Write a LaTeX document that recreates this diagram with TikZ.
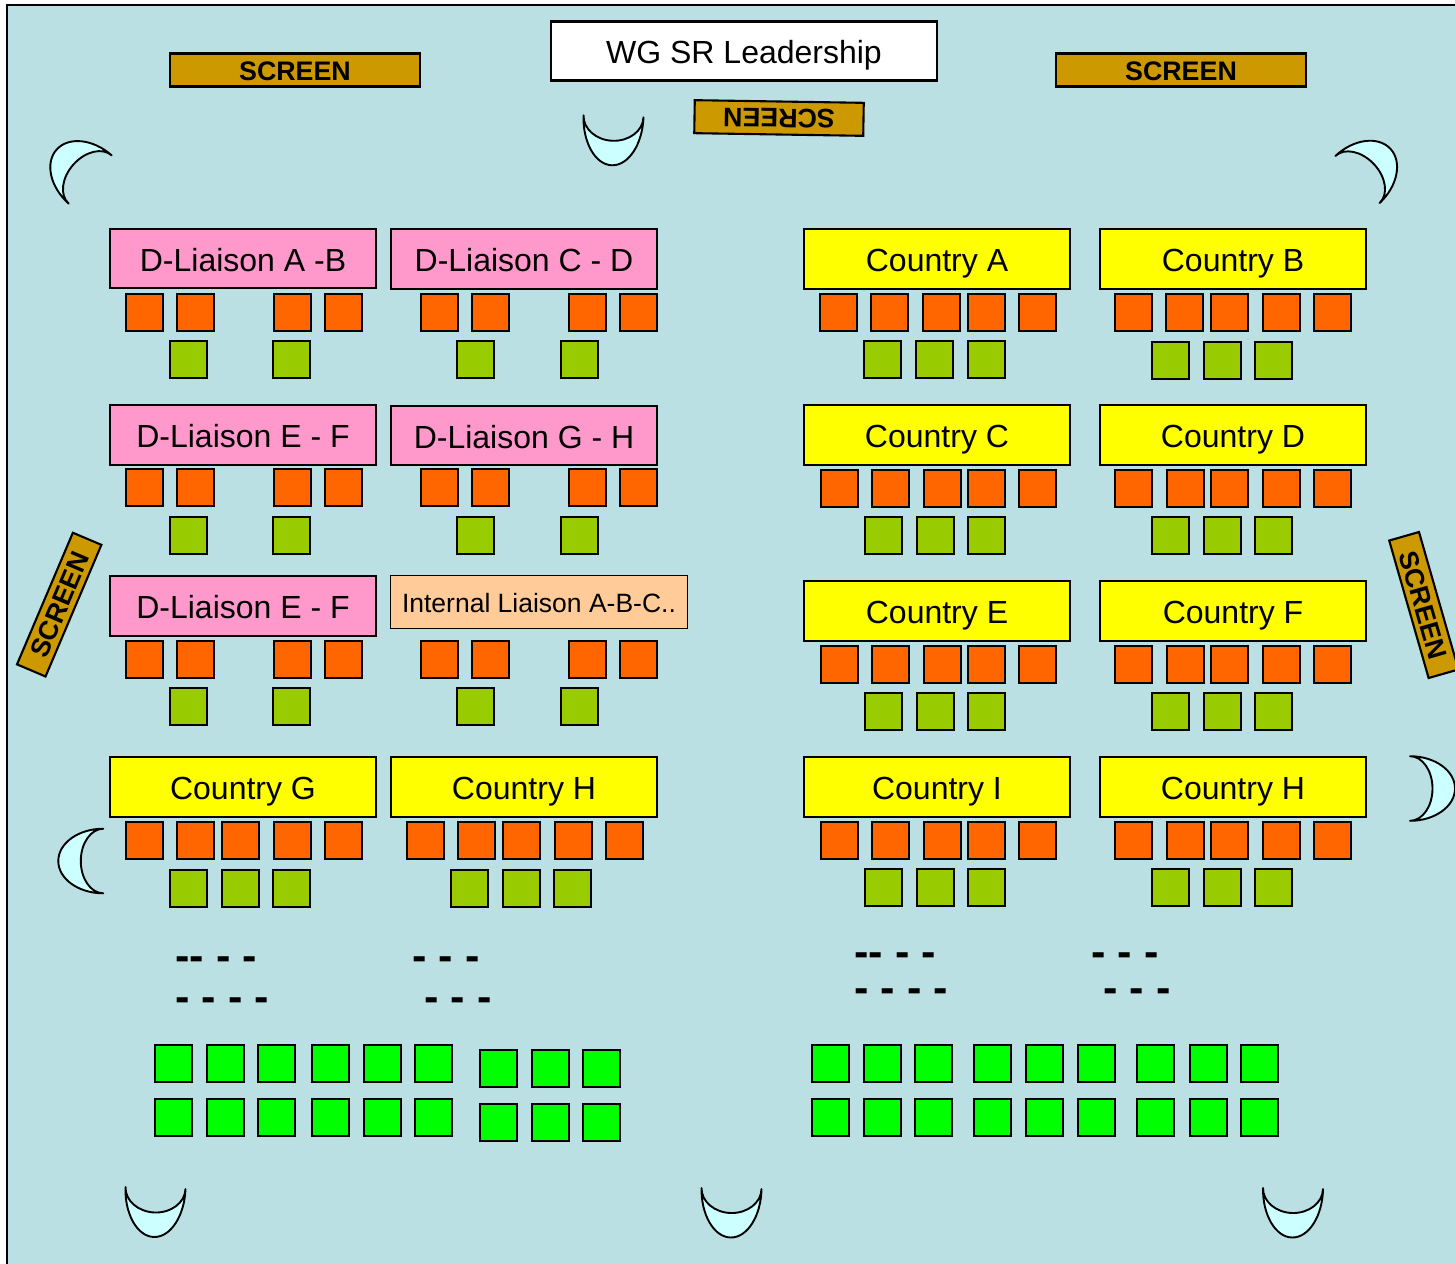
\documentclass[tikz,border=0pt]{standalone}
\usepackage{fontspec}
\setmainfont{Liberation Sans}
\definecolor{roomblue}{HTML}{BBE0E3}
\definecolor{moonfill}{HTML}{CCFFFF}
\definecolor{screenfill}{HTML}{CC9900}
\definecolor{seatorange}{HTML}{FF6600}
\definecolor{seatolive}{HTML}{99CC00}
\definecolor{seatgreen}{HTML}{00FF00}
\definecolor{liaisonpink}{HTML}{FF99CC}
\definecolor{countryyellow}{HTML}{FFFF00}
\definecolor{internalpeach}{HTML}{FFCC99}
\begin{document}
\begin{tikzpicture}[x=1pt,y=-1pt,line width=2.1pt,
  lev/.style={draw,minimum width=265.5pt,minimum height=59.5pt,inner sep=0pt,text height=25pt,text depth=0pt,font=\fontsize{32}{36}\selectfont},
  liaison/.style={lev,fill=liaisonpink},
  country/.style={lev,fill=countryyellow},
  screen/.style={draw,fill=screenfill,minimum width=250pt,minimum height=33pt,inner sep=0pt,text height=20pt,text depth=0pt,font=\fontsize{26.8}{32}\bfseries\selectfont},
  seat/.style={draw,minimum size=36.8pt,inner sep=0pt,xshift=.3pt,yshift=-.3pt},
  chair/.style={seat,fill=seatorange},
  back/.style={seat,fill=seatolive},
  rear/.style={seat,fill=seatgreen},
  more/.style={anchor=west,inner sep=0pt,text height=0pt,text depth=0pt,font=\fontsize{43.2}{48}\bfseries\selectfont},
  sidemoon/.style={xscale=45,yscale=32.3},
  frontmoon/.style={xscale=49,yscale=30},
  moon/.pic={\draw[fill=moonfill,line width=1.9pt,line join=round] (0,-1) .. controls (-.5523,-1) and (-1,-.5523) .. (-1,0) .. controls (-1,.5523) and (-.5523,1) .. (0,1) .. controls (-.276,1) and (-.5,.5523) .. (-.5,0) .. controls (-.5,-.5523) and (-.276,-1) .. (0,-1) -- cycle;}]
\useasboundingbox (0,0) rectangle (1455,1263);
\draw[fill=roomblue] (7,5) rectangle (1480,1290);

\node[draw,fill=white,minimum width=386pt,minimum height=59pt,inner sep=0pt,text height=25pt,text depth=0pt,font=\fontsize{32}{36}\selectfont] (lead) at (744,51) {WG SR Leadership};

% screens
\node[screen] (scrL) at (295,70) {SCREEN};
\node[screen] (scrR) at (1181,70) {SCREEN};
\node[screen,minimum width=169pt,rotate=179.1,text height=18pt] (scrT) at (779,118) {SCREEN};
\node[screen,minimum width=143pt,minimum height=31pt,rotate=67] (scrW) at (59.2,604.6) {SCREEN};
\node[screen,minimum width=143pt,minimum height=31pt,rotate=-74] (scrE) at (1423.8,605) {SCREEN};

% moons
\pic (moonNW) [rotate=-41.6,sidemoon] at (90.2,179.5) {moon};
\pic (moonNE) [rotate=-136.8,sidemoon] at (1357.5,179.5) {moon};
\pic (moonW) [sidemoon] at (103.3,861) {moon};
\pic (moonE) [rotate=180,sidemoon] at (1410,788.5) {moon};
\pic (moonT) [rotate=88,frontmoon] at (613.5,116.3) {moon};
\pic (moonA) [rotate=88,frontmoon] at (155.5,1188) {moon};
\pic (moonB) [rotate=89,frontmoon] at (731.5,1188.5) {moon};
\pic (moonC) [rotate=89,frontmoon] at (1293,1188.5) {moon};

% tables
\node[liaison] (ab) at (243,258.5) {D-Liaison A -B};
\node[liaison] (cd) at (524,259) {D-Liaison C - D};
\node[liaison] (ef) at (243,435) {D-Liaison E - F};
\node[liaison] (gh) at (524,435.5) {D-Liaison G - H};
\node[liaison] (ef2) at (243,606) {D-Liaison E - F};
\node[draw,fill=internalpeach,minimum width=297.5pt,minimum height=53.5pt,inner sep=0pt,line width=1.2pt,text height=20.5pt,text depth=0pt,font=\fontsize{26.5}{32}\selectfont] (int) at (539,602) {Internal Liaison A-B-C..};
\node[country] (cG) at (243,787) {Country G};
\node[country] (cH) at (524,787) {Country H};
\node[country] (cA) at (937,259) {Country A};
\node[country] (cB) at (1233,259) {Country B};
\node[country] (cC) at (937,435) {Country C};
\node[country] (cD) at (1233,435) {Country D};
\node[country] (cE) at (937,611) {Country E};
\node[country] (cF) at (1233,611) {Country F};
\node[country] (cI) at (937,787) {Country I};
\node[country] (cJ) at (1233,787) {Country H};

% seats behind the tables
\foreach \oy/\gy/\olist/\glist in {
  312/359/{144,195,292,343}/{188,291},
  312/359/{439,490,587,638}/{475,579},
  487/535/{144,195,292,343}/{188,291},
  487/535/{439,490,587,638}/{475,579},
  659/706/{144,195,292,343}/{188,291},
  659/706/{439,490,587,638}/{475,579},
  840/888/{144,195,240,292,343}/{188,240,291},
  840/888/{425,476,521,573,624}/{469,521,572},
  312/359/{838,889,941,986,1037}/{882,934,986},
  312/360/{1133,1184,1229,1281,1332}/{1170,1222,1273},
  488/535/{839,890,942,986,1037}/{883,935,986},
  488/535/{1133,1185,1229,1281,1332}/{1170,1222,1273},
  664/711/{839,890,942,986,1037}/{883,935,986},
  664/711/{1133,1185,1229,1281,1332}/{1170,1222,1273},
  840/887/{839,890,942,986,1037}/{883,935,986},
  840/887/{1133,1185,1229,1281,1332}/{1170,1222,1273}} {
  \foreach \x in \olist {\node[chair] (o\x-\oy) at (\x,\oy) {};}
  \foreach \x in \glist {\node[back] (g\x-\gy) at (\x,\gy) {};}
}

\node[more] (dotsA) at (174.5,970) {{-}{-} - -};
\node[more] (dotsB) at (174.5,1011) {- - - -};
\node[more] (dotsC) at (411.5,970) {- - -};
\node[more] (dotsD) at (423.5,1011) {- - -};
\node[more] (dotsE) at (853.5,966) {{-}{-} - -};
\node[more] (dotsF) at (853.5,1002) {- - - -};
\node[more] (dotsG) at (1090.5,966) {- - -};
\node[more] (dotsH) at (1102.5,1002) {- - -};

% rear rows
\foreach \y/\z in {1063/1068,1117/1122} {
  \foreach \x in {173,225.5,276.5,330,382,433} {\node[rear] (r\x-\y) at (\x,\y) {};}
  \foreach \x in {498,550.5,601.5} {\node[rear] (r\x-\z) at (\x,\z) {};}
  \foreach \x in {830,882,933,992,1044,1096,1155,1208,1259} {\node[rear] (r\x-\y) at (\x,\y) {};}
}
\end{tikzpicture}
\end{document}
